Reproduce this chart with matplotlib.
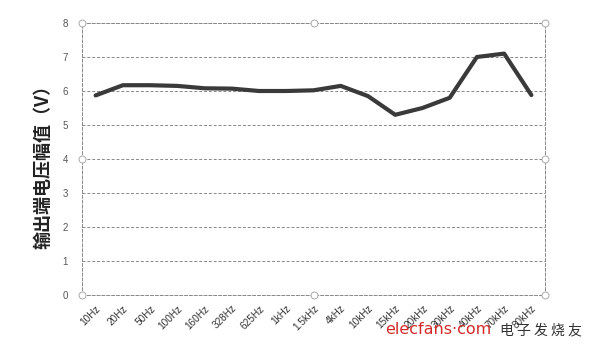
import matplotlib
matplotlib.use("Agg")
import matplotlib.pyplot as plt

plt.rcParams['font.family'] = ['Noto Sans CJK SC', 'DejaVu Sans']

categories = ["10Hz", "20Hz", "50Hz", "100Hz", "160Hz", "328Hz", "625Hz", "1kHz",
              "1.5kHz", "4kHz", "10kHz", "15kHz", "20kHz", "30kHz", "40kHz", "70kHz", "80kHz"]
values = [5.87, 6.17, 6.17, 6.15, 6.08, 6.07, 6.0, 6.0,
          6.02, 6.15, 5.85, 5.3, 5.5, 5.8, 7.0, 7.1, 5.88]
yticks = [0, 1, 2, 3, 4, 5, 6, 7, 8]
ylabel = "输出端电压幅值（V）"

fig = plt.figure(figsize=(5.89, 3.51), dpi=100)
ax = fig.add_axes([82/589, 56/351, 463/589, 272/351])

x = list(range(len(categories)))
ax.plot(x, values, color='#3a3a3a', lw=3.0, solid_joinstyle='round', solid_capstyle='round', zorder=3)

ax.set_xlim(-0.5, len(categories) - 0.5)
ax.set_ylim(0, 8)
ax.set_yticks(yticks)
ax.set_yticklabels([str(v) for v in yticks], fontsize=7, color='#555555', family=['Liberation Sans'])
ax.set_xticks(x)
ax.set_xticklabels(categories, rotation=45, ha='right', va='top', rotation_mode='anchor',
                   fontsize=7.2, color='#333333', family=['Liberation Sans'])
ax.tick_params(axis='both', length=0)
ax.tick_params(axis='y', pad=10)
ax.tick_params(axis='x', pad=6)

ax.yaxis.grid(True, linestyle=(0, (3, 2)), color='#888888', lw=0.7)
for s in ['left', 'right', 'top', 'bottom']:
    ax.spines[s].set_linestyle((0, (3, 2)))
    ax.spines[s].set_color('#888888')
    ax.spines[s].set_linewidth(0.7)

# selection handles
for (hx, hy) in [(0, 1), (0.5, 1), (1, 1), (0, 0.5), (1, 0.5), (0, 0), (0.5, 0), (1, 0)]:
    ax.plot(hx, hy, 'o', ms=5, mfc='white', mec='#aaaaaa', mew=0.7,
            transform=ax.transAxes, clip_on=False, zorder=5)

fig.text(43/589, 1 - 162/351, ylabel, rotation=90, ha='center', va='center',
         fontsize=13, fontweight='bold', color='#222222')

fig.text(385/589, 1 - 330/351, "elecfans·com", color='#d42a2a', fontsize=11.5,
         ha='left', va='center', family=['DejaVu Sans'])
fig.text(500/589, 1 - 330/351, "电 子 发 烧 友", color='#333333', fontsize=10,
         ha='left', va='center')

fig.savefig("out.png", dpi=100, facecolor='white')
